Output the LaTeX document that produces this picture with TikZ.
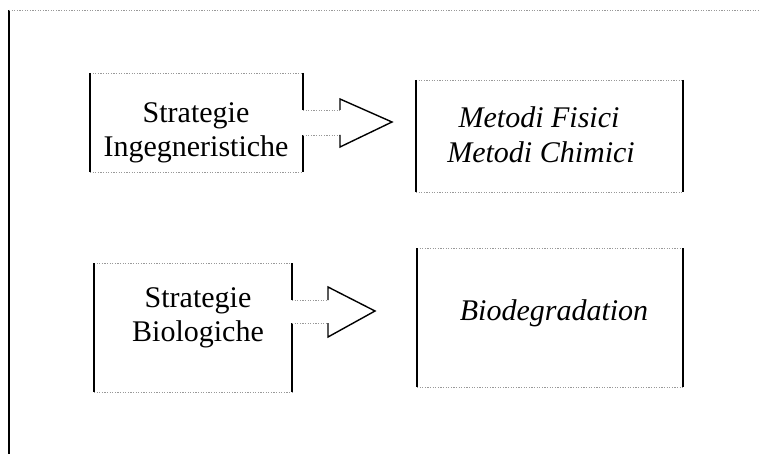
\documentclass[tikz,border=0pt]{standalone}
\usepackage{fontspec}
\setmainfont{Liberation Serif}
\begin{document}
\begin{tikzpicture}[x=1pt,y=-1pt,
  side/.style={line width=1.8pt,black},
  rule/.style={line width=0.8pt,black!40,dash pattern=on 1.2pt off 1.4pt},
  head/.style={line width=1.4pt,black,line join=miter},
  lbl/.style={anchor=base,inner sep=0pt,font=\fontsize{30}{35}\selectfont},
  ilbl/.style={lbl,font=\fontsize{30}{35}\selectfont\itshape}]
\useasboundingbox (0,0) rectangle (759,454);

% outer frame (left and top edges)
\coordinate (fTL) at (9,10);
\coordinate (fBL) at (9,454);
\coordinate (fTR) at (759,10);
\draw[side] (fTL) -- (fBL);
\draw[rule] (fTL) -- (fTR);

% box corners
\coordinate (aTL) at (90,73);  \coordinate (aBR) at (303,172);
\coordinate (bTL) at (416,80); \coordinate (bBR) at (683,192);
\coordinate (cTL) at (94,263); \coordinate (cBR) at (292,392);
\coordinate (dTL) at (417,248);\coordinate (dBR) at (683,387);

% arrow 1: shaft from box a to head
\coordinate (s1t) at (303,110); \coordinate (s1b) at (303,135);
\coordinate (h1t) at (340,110); \coordinate (h1b) at (340,135);
\coordinate (h1u) at (340,99);  \coordinate (h1d) at (340,147);
\coordinate (t1) at (392,122);
% arrow 2
\coordinate (s2t) at (292,300); \coordinate (s2b) at (292,323);
\coordinate (h2t) at (328,300); \coordinate (h2b) at (328,323);
\coordinate (h2u) at (328,287); \coordinate (h2d) at (328,337);
\coordinate (t2) at (375,311);

% box a: Strategie Ingegneristiche
\draw[rule] (aTL) -- (aTL -| aBR);
\draw[rule] (aTL |- aBR) -- (aBR);
\draw[side] (aTL) -- (aTL |- aBR);
\draw[side] (aTL -| aBR) -- (s1t);
\draw[side] (s1b) -- (aBR);
\node[lbl] (a1) at (196,123) {Strategie};
\node[lbl] (a2) at (196,157) {Ingegneristiche};

% box b: Metodi
\draw[rule] (bTL) -- (bTL -| bBR);
\draw[rule] (bTL |- bBR) -- (bBR);
\draw[side] (bTL) -- (bTL |- bBR);
\draw[side] (bTL -| bBR) -- (bBR);
\node[ilbl] (b1) at (539,128) {Metodi Fisici};
\node[ilbl] (b2) at (541,163) {Metodi Chimici};

% box c: Strategie Biologiche
\draw[rule] (cTL) -- (cTL -| cBR);
\draw[rule] (cTL |- cBR) -- (cBR);
\draw[side] (cTL) -- (cTL |- cBR);
\draw[side] (cTL -| cBR) -- (s2t);
\draw[side] (s2b) -- (cBR);
\node[lbl] (c1) at (198,307) {Strategie};
\node[lbl] (c2) at (198,341) {Biologiche};

% box d: Biodegradation
\draw[rule] (dTL) -- (dTL -| dBR);
\draw[rule] (dTL |- dBR) -- (dBR);
\draw[side] (dTL) -- (dTL |- dBR);
\draw[side] (dTL -| dBR) -- (dBR);
\node[ilbl] (d1) at (554,320) {Biodegradation};

% block arrows: faint shaft, solid head
\draw[rule] (s1t) -- (h1t);
\draw[rule] (s1b) -- (h1b);
\draw[head] (h1t) -- (h1u) -- (t1) -- (h1d) -- (h1b);
\draw[rule] (s2t) -- (h2t);
\draw[rule] (s2b) -- (h2b);
\draw[head] (h2t) -- (h2u) -- (t2) -- (h2d) -- (h2b);
\end{tikzpicture}
\end{document}
